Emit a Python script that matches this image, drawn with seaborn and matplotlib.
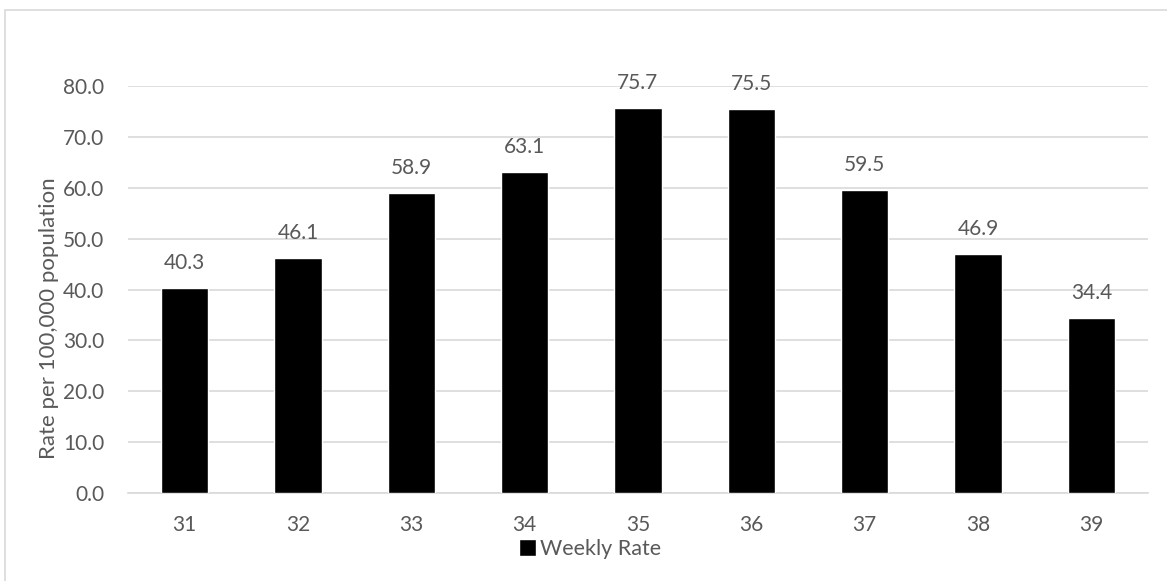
import matplotlib.pyplot as plt
from matplotlib.patches import Rectangle
import pandas as pd
import seaborn as sns

weeks = ["31", "32", "33", "34", "35", "36", "37", "38", "39"]
rates = [40.3, 46.1, 58.9, 63.1, 75.7, 75.5, 59.5, 46.9, 34.4]

df = pd.DataFrame({"Week": weeks, "Weekly Rate": rates})

sns.set_style("white")
plt.rcParams["font.family"] = ["Lato", "DejaVu Sans"]
grey = "#595959"

fig = plt.figure(figsize=(11.67, 5.81), dpi=100)
W, H = 1167, 581
ax = fig.add_axes([128 / W, 1 - 493 / H, (1148 - 128) / W, (493 - 86) / H])

sns.barplot(data=df, x="Week", y="Weekly Rate", color="black", width=0.42,
            saturation=1, ax=ax, zorder=3, label="Weekly Rate")
for i, v in enumerate(rates):
    ax.text(i, v + 3.0, f"{v:.1f}", ha="center", va="bottom", fontsize=15, color=grey)

ax.set_ylim(0, 80)
ax.set_yticks(range(0, 81, 10))
ax.set_yticklabels([f"{t:.1f}" for t in range(0, 81, 10)])
ax.set_xlim(-0.5, len(weeks) - 0.5)
ax.yaxis.grid(True, color="#d9d9d9", linewidth=1.2, zorder=0)
for s in ["top", "right", "left"]:
    ax.spines[s].set_visible(False)
ax.spines["bottom"].set_color("#d9d9d9")
ax.spines["bottom"].set_linewidth(1.2)
ax.tick_params(axis="both", length=0, labelsize=15, labelcolor=grey)
ax.tick_params(axis="y", pad=17)
ax.tick_params(axis="x", pad=16)
ax.set_xlabel("")
ax.set_ylabel("")

fig.text(49 / W, 1 - 318 / H, "Rate per 100,000 population", rotation=90,
         ha="center", va="center", fontsize=16, color=grey)

leg = ax.legend(loc="center", bbox_to_anchor=(590 / W, 1 - 549 / H),
                bbox_transform=fig.transFigure, frameon=False, fontsize=15.5,
                handlelength=0.8, handleheight=0.8, handletextpad=0.2,
                borderpad=0)
for t in leg.get_texts():
    t.set_color(grey)

fig.patches.append(Rectangle((5 / W, -0.1), 1.2, 1.1 - 10 / H, transform=fig.transFigure,
                             fill=False, edgecolor="#d9d9d9", linewidth=1.2, zorder=0))

plt.savefig("out.png", dpi=100)
